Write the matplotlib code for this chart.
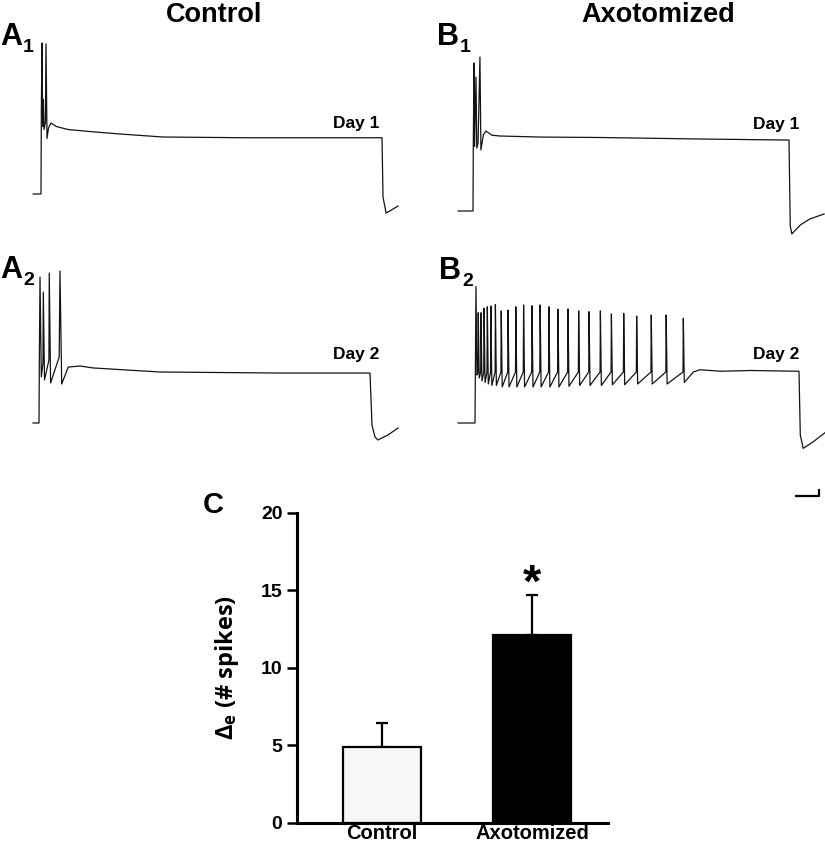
import matplotlib
matplotlib.use("Agg")
import matplotlib.pyplot as plt

W, H = 825, 844
plt.rcParams['font.family'] = ['Liberation Sans', 'DejaVu Sans']
plt.rcParams['font.weight'] = 'bold'

# ---------------- data: membrane-potential traces (t in ms, V in mV) ----------------
# A1: control, day 1
a1_t = [-23, 0, 1, 2.9, 5, 7, 9, 13, 14.7, 17.6, 22, 29, 45, 79, 150, 232, 358, 600, 1000,
        1003, 1012, 1023, 1047]
a1_v = [-60, -60, -5, 40.7, -15, 3, -17, -12, 40.0, -23, -16, -12.7, -15, -17, -18.5, -20, -22, -22.5, -22.5,
        -62, -72.7, -71.3, -68]
# B1: axotomized, day 1
b1_t = [-47, 0, 1, 3.2, 5, 9.5, 12, 16, 22, 25, 33, 41, 60, 85, 212, 400, 718, 1000,
        1004, 1009, 1036, 1066, 1111]
b1_v = [-60, -60, -14, 38.7, -17, 29.3, -18, -15, 42.7, -19.3, -9, -6.7, -9.5, -10, -10.7, -11, -12, -12.7,
        -70, -75.3, -69.3, -65.3, -62]
# A2: control, day 2
a2_t = [-18, 0, 1, 3, 7, 12, 13, 16.6, 30, 31, 35, 61, 63.4, 68.6, 88.5, 124, 163, 366, 728, 1000,
        1006, 1015, 1024, 1054, 1085]
a2_v = [-60, -60, -20, 37.3, -29.3, -20, 27.3, -31.3, -18, 40, -33.3, -16, 41.3, -34, -22.7, -22, -23.3, -26, -26.7, -26.7,
        -61.3, -69.3, -71.3, -68, -63.3]
# B2: axotomized, day 2 (repetitive firing)
b2_spike_t = [3, 10, 18.5, 28, 38, 49, 63, 81, 102, 126, 150, 176, 201, 228, 256, 287,
              320, 352, 387, 421, 459, 499, 544, 590, 643]
b2_spike_peak = [31, 13.5, 13.5, 16.5, 17.5, 18, 19, 14.7, 15.3, 17.5, 18.7, 18.2, 18.7, 17.5, 15.8, 16,
                 14.7, 14.2, 14.7, 12.7, 13.1, 11.3, 12, 12, 9.8]
b2_spike_trough = [-28, -30, -32, -33, -34, -35, -35, -36, -36, -36, -36, -36, -36, -36, -36, -35.5,
                   -35, -35, -35, -34.5, -34.5, -34, -34, -34, -33]
b2_threshold = -26
b2_pre_t, b2_pre_v = [-52, 0, 1], [-60, -60, -30]
b2_post_t = [674, 694, 760, 850, 1000, 1004, 1013, 1044, 1080]
b2_post_v = [-26, -24.5, -25.5, -25, -25.5, -68, -76.9, -72.5, -66.5]
rest_mv = -60
scale_ms, scale_mv = 75, 5

# ---------------- data: summary bar chart ----------------
categories = ['Control', 'Axotomized']
means = [4.9, 12.1]
sems = [1.55, 2.6]
bar_colors = ['#f7f7f7', '#000000']
yticks = [0, 5, 10, 15, 20]

fig = plt.figure(figsize=(W / 100, H / 100), dpi=100)


def fx(x):
    return x / W


def fy(y):
    return 1 - y / H


def trace_axes(x_on, x_off, y_rest, box, px_per_mv=1.5):
    sx = (x_off - x_on) / 1000.0
    ax = fig.add_axes([fx(box[0]), fy(box[3]), (box[2] - box[0]) / W, (box[3] - box[1]) / H])
    ax.set_xlim((box[0] - x_on) / sx, (box[2] - x_on) / sx)
    ax.set_ylim(rest_mv + (y_rest - box[3]) / px_per_mv, rest_mv + (y_rest - box[1]) / px_per_mv)
    ax.axis('off')
    return ax


lw = 0.9
tc = '#141414'

axA1 = trace_axes(41, 382, 194, (15, 30, 410, 235))
axA1.plot(a1_t, a1_v, color=tc, lw=lw, clip_on=False)
axB1 = trace_axes(473, 789, 211, (435, 30, 825, 245))
axB1.plot(b1_t, b1_v, color=tc, lw=lw, clip_on=False)
axA2 = trace_axes(39, 370, 423, (15, 250, 410, 460))
axA2.plot(a2_t, a2_v, color=tc, lw=lw, clip_on=False)
axB2 = trace_axes(475, 799, 423, (435, 250, 825, 505))

bt, bv = list(b2_pre_t), list(b2_pre_v)
for i, (st, pk, tr) in enumerate(zip(b2_spike_t, b2_spike_peak, b2_spike_trough)):
    if i > 0:
        bt.append(st - 1.0)
        bv.append(b2_threshold)
    bt += [st, st + 3.0]
    bv += [pk, tr]
bt += b2_post_t
bv += b2_post_v
axB2.plot(bt, bv, color=tc, lw=lw, clip_on=False)

# scale bar
sb_t, sb_v = 1062, -108.7
axB2.plot([sb_t - scale_ms, sb_t, sb_t], [sb_v, sb_v, sb_v + scale_mv], color='black', lw=1.6,
          solid_capstyle='butt', clip_on=False)

# ---------------- texts ----------------
fig.text(fx(214), fy(21.5), 'Control', fontsize=19.5, ha='center', va='baseline')
fig.text(fx(658), fy(21.5), 'Axotomized', fontsize=19.5, ha='center', va='baseline')
for x, y, main, sub in [(0, 45, 'A', '1'), (437, 45, 'B', '1'), (0, 277.5, 'A', '2'), (439, 279, 'B', '2')]:
    fig.text(fx(x), fy(y), main, fontsize=22, ha='left', va='baseline')
    fig.text(fx(x + 23), fy(y + 7.5), sub, fontsize=14, ha='left', va='baseline')
for x, y, s in [(333, 128, 'Day 1'), (753, 129, 'Day 1'), (333, 359, 'Day 2'), (753, 359, 'Day 2')]:
    fig.text(fx(x), fy(y), s, fontsize=12.5, ha='left', va='baseline')
fig.text(fx(203), fy(513), 'C', fontsize=21, ha='left', va='baseline')

# ---------------- bar chart ----------------
axC = fig.add_axes([fx(297), fy(822.7), (608 - 297) / W, (822.7 - 512.7) / H])
xpos = list(range(len(categories)))
axC.bar(xpos, means, width=0.52, color=bar_colors, edgecolor='black', linewidth=1.6, zorder=2)
axC.errorbar(xpos, means, yerr=[[0] * len(sems), sems], fmt='none', ecolor='black',
             elinewidth=1.6, capsize=4, capthick=1.6, zorder=1)
axC.set_xlim(-0.567, 1.507)
axC.set_ylim(0, 20)
axC.set_yticks(yticks)
axC.set_yticklabels([str(v) for v in yticks], fontsize=14, fontweight='bold')
axC.set_xticks(xpos)
axC.set_xticklabels(categories, fontsize=14.5, fontweight='bold')
axC.tick_params(axis='y', length=7, width=1.8, pad=3.5)
axC.tick_params(axis='x', length=0, pad=1)
for s in ['top', 'right']:
    axC.spines[s].set_visible(False)
for s in ['left', 'bottom']:
    axC.spines[s].set_linewidth(2.2)
axC.set_ylabel(r'$\mathregular{\Delta_e}$ (# spikes)', fontsize=17, fontweight='bold',
               family=['Open Sans', 'DejaVu Sans'], labelpad=14)
axC.text(1, 15.35, '*', fontsize=34, fontweight='bold', ha='center', va='center')

fig.savefig('out.png', dpi=100)
